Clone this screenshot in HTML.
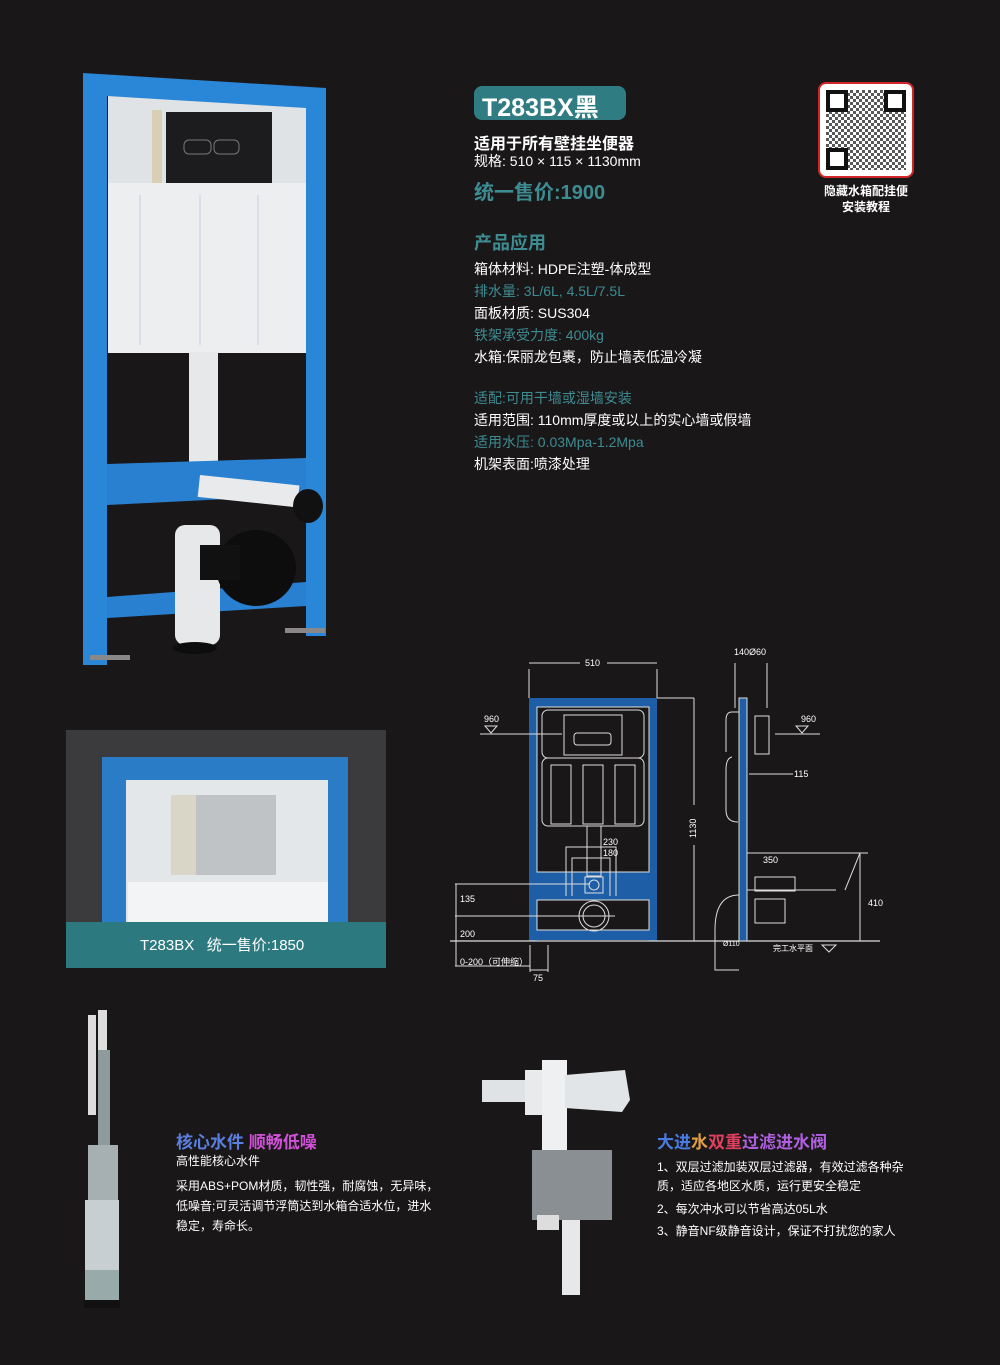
<!DOCTYPE html>
<html><head><meta charset="utf-8"><style>
body{margin:0;background:#1a1718;}
#p{position:relative;width:1000px;height:1365px;background:#1a1718;overflow:hidden;font-family:"Liberation Sans","Noto Sans CJK SC",sans-serif;color:#fff}
.a{position:absolute;white-space:nowrap}
.t{color:#3d8c92}
</style></head><body><div id="p">
<!-- main photo -->
<svg class="a" style="left:0;top:0" width="400" height="700">
<rect x="108" y="95" width="205" height="100" fill="#dfe3e6"/>
<rect x="152" y="110" width="10" height="78" fill="#d8cfb4"/>
<rect x="166" y="112" width="106" height="80" fill="#1c1c1e"/>
<rect x="184" y="140" width="27" height="14" rx="5" fill="none" stroke="#777"/>
<rect x="214" y="140" width="25" height="14" rx="5" fill="none" stroke="#777"/>
<rect x="108" y="183" width="207" height="170" fill="#eceef0"/>
<line x1="140" y1="195" x2="140" y2="345" stroke="#ccd" />
<line x1="200" y1="195" x2="200" y2="345" stroke="#ccd"/>
<line x1="258" y1="195" x2="258" y2="345" stroke="#ccd"/>
<rect x="189" y="352" width="29" height="120" fill="#e6e8ea"/>
<path d="M83 73 L326 88 L326 636 L306 636 L306 108 L107 96 L107 665 L83 665Z" fill="#2a86d6"/>
<path d="M107 464 L306 458 L306 495 L107 505Z" fill="#2a80d0"/>
<path d="M107 597 L306 582 L306 606 L107 618Z" fill="#2a80d0"/>
<rect x="200" y="475" width="100" height="22" fill="#e8eaec" transform="rotate(6 200 475)"/>
<ellipse cx="308" cy="506" rx="15" ry="17" fill="#111"/>
<rect x="175" y="525" width="45" height="120" rx="10" fill="#e6e8ea"/>
<ellipse cx="256" cy="568" rx="40" ry="38" fill="#0d0d0e"/>
<rect x="200" y="545" width="40" height="35" fill="#111"/>
<ellipse cx="195" cy="648" rx="22" ry="6" fill="#0d0d0e"/>
<rect x="90" y="655" width="40" height="5" fill="#888"/>
<rect x="285" y="628" width="40" height="5" fill="#888"/>
</svg>
<!-- title -->
<div class="a" style="left:474px;top:86px;width:152px;height:34px;background:#2f7c82;border-radius:8px"></div>
<div class="a" style="left:482px;top:88px;font-size:25px;font-weight:bold">T283BX黑</div>
<div class="a" style="left:474px;top:130px;font-size:16px;font-weight:bold">适用于所有壁挂坐便器</div>
<div class="a" style="left:474px;top:151px;font-size:14px">规格: 510 × 115 × 1130mm</div>
<div class="a t" style="left:474px;top:176px;font-size:20px;font-weight:bold">统一售价:1900</div>
<div class="a t" style="left:474px;top:229px;font-size:18px;font-weight:bold">产品应用</div>
<div class="a" style="left:474px;top:258px;font-size:14px;line-height:22px">箱体材料: HDPE注塑-体成型<br><span class="t">排水量: 3L/6L, 4.5L/7.5L</span><br>面板材质: SUS304<br><span class="t">铁架承受力度: 400kg</span><br>水箱:保丽龙包裹，防止墙表低温冷凝</div>
<div class="a" style="left:474px;top:387px;font-size:14px;line-height:22px"><span class="t">适配:可用干墙或湿墙安装</span><br>适用范围: 110mm厚度或以上的实心墙或假墙<br><span class="t">适用水压: 0.03Mpa-1.2Mpa</span><br>机架表面:喷漆处理</div>
<!-- QR -->
<div class="a" style="left:818px;top:82px;width:96px;height:96px;background:#fff;border:2px solid #d0262a;border-radius:8px;box-sizing:border-box"></div>
<svg class="a" style="left:826px;top:90px" width="80" height="80">
<defs><pattern id="q" width="6" height="6" patternUnits="userSpaceOnUse"><rect width="3" height="3" fill="#111"/><rect x="3" y="3" width="3" height="3" fill="#111"/></pattern></defs>
<rect width="80" height="80" fill="url(#q)" opacity=".7"/>
<g fill="#fff" stroke="#111" stroke-width="4"><rect x="2" y="2" width="18" height="18"/><rect x="60" y="2" width="18" height="18"/><rect x="2" y="60" width="18" height="18"/></g>
</svg>
<div class="a" style="left:823px;top:183px;font-size:12px;font-weight:bold;text-align:center;width:86px;line-height:16px">隐藏水箱配挂便<br>安装教程</div>
<!-- second photo -->
<div class="a" style="left:66px;top:730px;width:320px;height:238px;background:#3b3a3c"></div>
<svg class="a" style="left:66px;top:730px" width="320" height="238">
<rect x="60" y="50" width="205" height="145" fill="#e4e7ea"/>
<rect x="105" y="65" width="30" height="80" fill="#d9d6c8"/>
<rect x="130" y="65" width="80" height="80" fill="#bfc3c6"/>
<rect x="62" y="152" width="200" height="45" fill="#f3f4f5"/>
<path d="M36 27 L282 27 L282 192 L262 192 L262 50 L60 50 L60 192 L36 192Z" fill="#2a7cc7"/>
</svg>
<div class="a" style="left:66px;top:922px;width:320px;height:46px;background:#2c7a80"></div>
<div class="a" style="left:140px;top:934px;font-size:15px">T283BX &nbsp;&nbsp;统一售价:1850</div>
<!-- drawing -->
<svg class="a" style="left:450px;top:640px;font-family:'Liberation Sans','Noto Sans CJK SC',sans-serif" width="450" height="350" fill="none" stroke="#ddd" stroke-width="1">
<rect x="79" y="58" width="128" height="243" fill="#1e5ea6" stroke="none"/>
<rect x="87" y="67" width="112" height="165" fill="#1a1718" stroke="#ddd"/>
<rect x="87" y="260" width="112" height="30" fill="#1a1718" stroke="#ddd"/>
<rect x="87" y="300" width="112" height="4" fill="#1a1718" stroke="none"/>
<rect x="92" y="70" width="102" height="48" rx="6"/>
<rect x="114" y="75" width="58" height="40"/>
<rect x="124" y="93" width="37" height="12" rx="3"/>
<rect x="92" y="118" width="102" height="68" rx="6"/>
<rect x="101" y="125" width="20" height="59"/><rect x="133" y="125" width="20" height="59"/><rect x="165" y="125" width="20" height="59"/>
<rect x="137" y="186" width="14" height="50"/>
<rect x="135" y="237" width="18" height="16"/><circle cx="144" cy="245" r="5"/>
<circle cx="144" cy="276" r="15"/><circle cx="144" cy="276" r="11"/>
<line x1="79" y1="29" x2="79" y2="58"/><line x1="207" y1="29" x2="207" y2="58"/>
<line x1="79" y1="23" x2="130" y2="23"/><line x1="157" y1="23" x2="207" y2="23"/>
<line x1="207" y1="58" x2="244" y2="58"/><line x1="244" y1="58" x2="244" y2="165"/><line x1="244" y1="205" x2="244" y2="301"/>
<line x1="30" y1="94" x2="112" y2="94"/><path d="M35 86 L47 86 L41 93Z"/>
<line x1="0" y1="301" x2="430" y2="301" stroke-width="1.2"/>
<line x1="5" y1="244" x2="140" y2="244"/><line x1="5" y1="276" x2="165" y2="276"/><line x1="5" y1="326" x2="80" y2="326"/>
<line x1="6" y1="244" x2="6" y2="326"/>
<path d="M116 256 V207 H166 V256 M122 256 V218 H160 V256"/>
<path d="M80 305 V332 M98 305 V332 M80 330 H98"/>
<!-- side view -->
<rect x="289" y="58" width="8" height="243" fill="#1e5ea6" stroke="#ddd"/>
<path d="M289 72 H282 Q276 72 276 80 V112 M282 117 Q276 118 276 130 V170 Q276 182 288 182 M297 112 V182"/>
<rect x="305" y="76" width="14" height="38"/>
<line x1="285" y1="23" x2="285" y2="68"/><line x1="317" y1="23" x2="317" y2="68"/>
<line x1="299" y1="134" x2="343" y2="134"/>
<line x1="325" y1="94" x2="370" y2="94"/><path d="M346 86 L358 86 L352 93Z"/>
<path d="M297 213 H410 L395 250 M297 250 H386"/>
<rect x="305" y="237" width="40" height="14"/><rect x="305" y="259" width="30" height="24"/>
<path d="M289 255 Q265 255 265 290 V330 H289"/>
<line x1="397" y1="213" x2="418" y2="213"/><line x1="410" y1="213" x2="410" y2="301"/>
<path d="M372 305 L386 305 L379 312Z"/>
<g fill="#fff" stroke="none" font-size="9">
<text x="135" y="26">510</text><text x="34" y="82">960</text><text x="351" y="82">960</text>
<text x="284" y="15">140Ø60</text><text x="344" y="137">115</text>
<text x="153" y="205">230</text><text x="153" y="216">180</text>
<text x="313" y="223">350</text><text x="418" y="266">410</text>
<text x="10" y="262">135</text><text x="10" y="297">200</text>
<text x="10" y="325">0-200（可伸缩）</text><text x="83" y="341">75</text>
<text x="273" y="306" font-size="7">Ø110</text><text x="323" y="311" font-size="8">完工水平面</text>
<text transform="translate(246 198) rotate(-90)">1130</text>
</g>
</svg>
<!-- flush valve -->
<svg class="a" style="left:70px;top:1005px" width="80" height="310">
<rect x="18" y="10" width="8" height="100" fill="#ddd"/><rect x="28" y="5" width="9" height="45" fill="#ddd"/>
<rect x="28" y="45" width="12" height="100" fill="#8f9a9c"/>
<rect x="18" y="140" width="30" height="55" fill="#a6b0b3"/>
<rect x="15" y="195" width="34" height="70" fill="#c7cfd2"/>
<rect x="15" y="265" width="34" height="30" fill="#9aa" />
<rect x="14" y="295" width="36" height="8" fill="#111"/>
</svg>
<div class="a" style="left:176px;top:1128px;font-size:17px;font-weight:bold;color:#5b7fe0">核心水件 <span style="color:#d050d8">顺畅低噪</span></div>
<div class="a" style="left:176px;top:1152px;font-size:12px">高性能核心水件</div>
<div class="a" style="left:176px;top:1176px;font-size:12px;line-height:20px">采用ABS+POM材质，韧性强，耐腐蚀，无异味，<br>低噪音;可灵活调节浮筒达到水箱合适水位，进水<br>稳定，寿命长。</div>
<!-- fill valve -->
<svg class="a" style="left:480px;top:1050px" width="160" height="260">
<rect x="2" y="30" width="50" height="22" fill="#dfe3e5"/>
<rect x="45" y="20" width="18" height="45" fill="#e8eaec"/>
<rect x="62" y="10" width="25" height="95" fill="#eef0f1"/>
<path d="M85 25 L145 20 L150 50 L142 62 L85 58Z" fill="#e2e5e7"/>
<rect x="52" y="100" width="80" height="70" fill="#8a8f94"/>
<rect x="57" y="165" width="22" height="15" fill="#ddd"/>
<rect x="82" y="170" width="18" height="75" fill="#e6e8ea"/>
</svg>
<div class="a" style="left:657px;top:1128px;font-size:17px;font-weight:bold;color:#4a7be0">大进<span style="color:#e0a040">水</span><span style="color:#e04060">双重</span><span style="color:#b060e0">过滤进水阀</span></div>
<div class="a" style="left:657px;top:1158px;font-size:12px;line-height:19px">1、双层过滤加装双层过滤器，有效过滤各种杂<br>质，适应各地区水质，运行更安全稳定</div>
<div class="a" style="left:657px;top:1200px;font-size:12px">2、每次冲水可以节省高达05L水</div>
<div class="a" style="left:657px;top:1222px;font-size:12px">3、静音NF级静音设计，保证不打扰您的家人</div>
</div></body></html>
